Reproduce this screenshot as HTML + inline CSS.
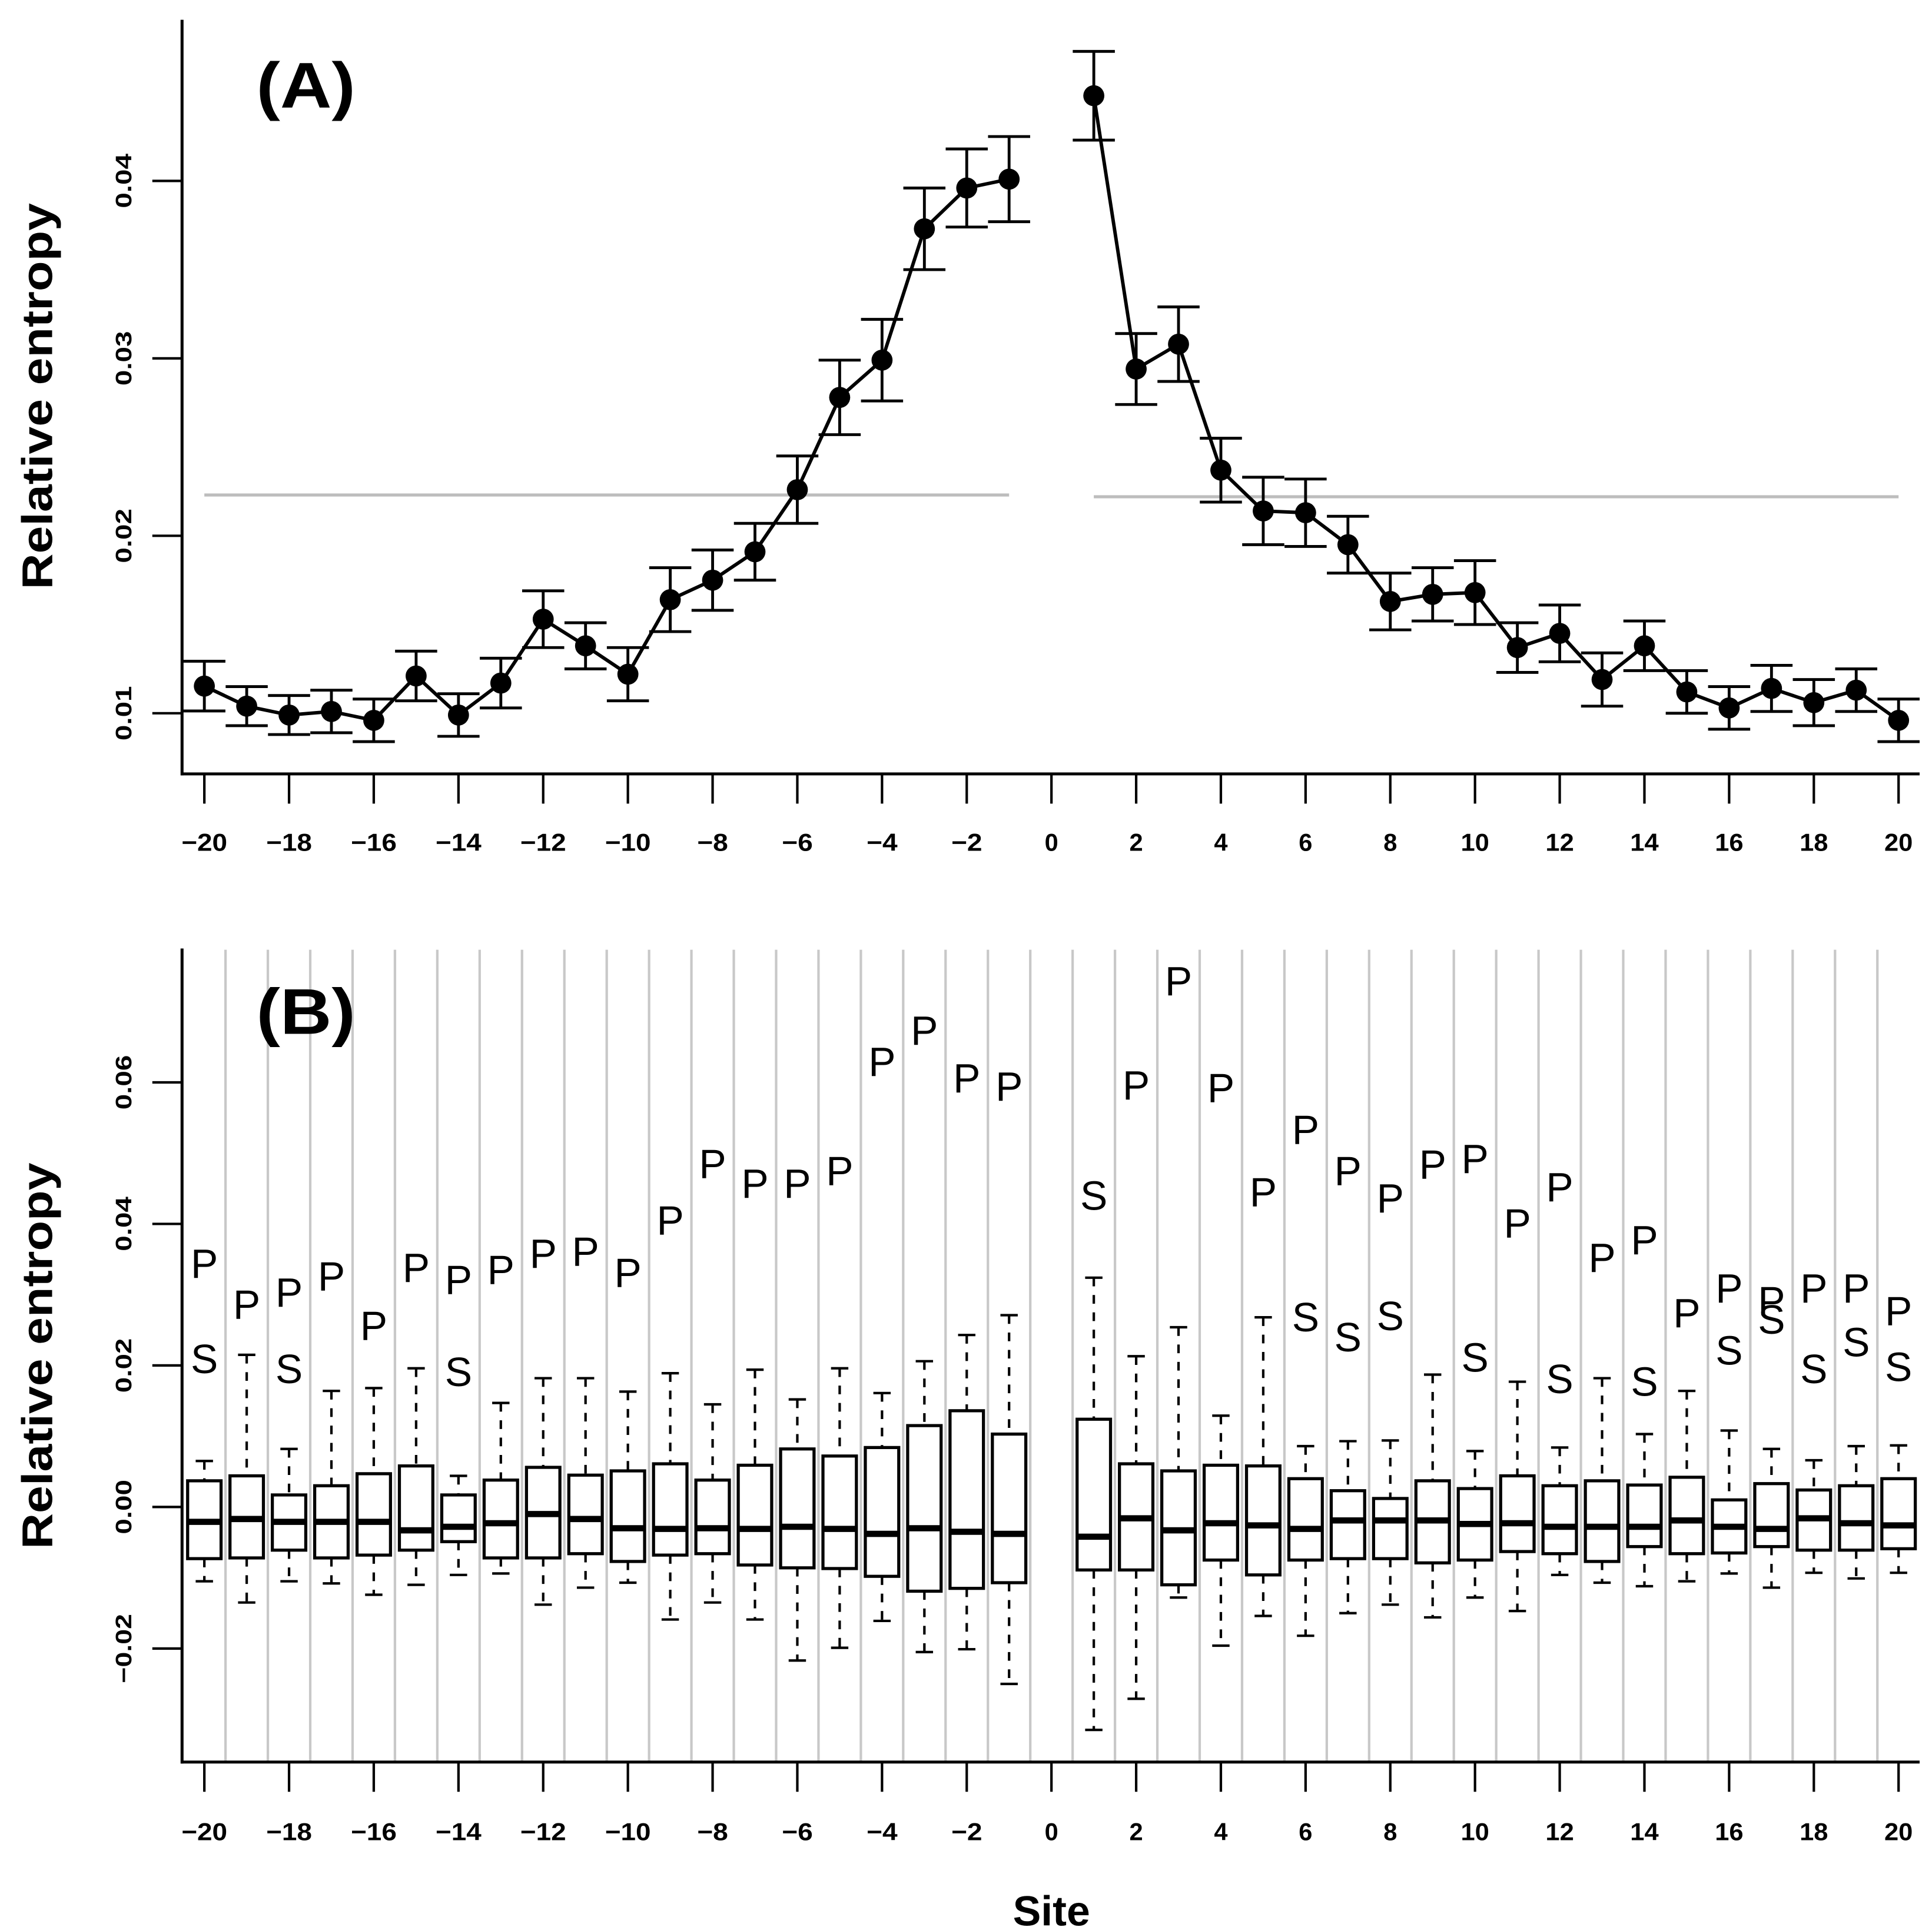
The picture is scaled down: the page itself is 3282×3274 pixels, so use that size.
<!DOCTYPE html>
<html><head><meta charset="utf-8"><style>html,body{margin:0;padding:0;background:#fff}svg{display:block}</style></head>
<body>
<svg id="fig" xmlns="http://www.w3.org/2000/svg" width="3282" height="3274" viewBox="0 0 1560 1556.2" preserveAspectRatio="none" font-family="'Liberation Sans', Arial, sans-serif">
<rect width="1560" height="1557" fill="#fff"/>
<g id="pa"></g>
<g id="pb"></g>
</svg>
<script>
// ---- Panel A data ----
const sitesA = [-20,-19,-18,-17,-16,-15,-14,-13,-12,-11,-10,-9,-8,-7,-6,-5,-4,-3,-2,-1,1,2,3,4,5,6,7,8,9,10,11,12,13,14,15,16,17,18,19,20];
const meanA = [0.01153,0.0104,0.0099,0.0101,0.0096,0.0121,0.0099,0.0117,0.0153,0.0138,0.0122,0.0164,0.0175,0.0191,0.0226,0.0278,0.0299,0.0373,0.0396,0.0401,
  0.0448,0.0294,0.0308,0.0237,0.0214,0.0213,0.0195,0.0163,0.0167,0.0168,0.0137,0.0145,0.0119,0.0138,0.0112,0.0103,0.0114,0.0106,0.0113,0.0096];
const errA = [0.0014,0.0011,0.0011,0.0012,0.0012,0.0014,0.0012,0.0014,0.0016,0.0013,0.0015,0.0018,0.0017,0.0016,0.0019,0.0021,0.0023,0.0023,0.0022,0.0024,
  0.0025,0.002,0.0021,0.0018,0.0019,0.0019,0.0016,0.0016,0.0015,0.0018,0.0014,0.0016,0.0015,0.0014,0.0012,0.0012,0.0013,0.0013,0.0012,0.0012];
const refA = [0.0223, 0.0222];
const yTicksA = [0.01,0.02,0.03,0.04];
const yTickLabelsA = ["0.01","0.02","0.03","0.04"];
const xTicks = [-20,-18,-16,-14,-12,-10,-8,-6,-4,-2,0,2,4,6,8,10,12,14,16,18,20];
const xTickLabels = ["\u221220","\u221218","\u221216","\u221214","\u221212","\u221210","\u22128","\u22126","\u22124","\u22122","0","2","4","6","8","10","12","14","16","18","20"];

// ---- Panel B data (values in units of 0.001) ----
const sitesB = sitesA;
const hiB  = [6.5,21.5,8.2,16.4,16.8,19.6,4.4,14.7,18.2,18.2,16.3,18.9,14.5,19.4,15.2,19.6,16.1,20.6,24.3,27.1,32.4,21.3,25.4,12.9,26.8,8.6,9.3,9.4,18.7,7.9,17.7,8.4,18.2,10.3,16.4,10.8,8.2,6.6,8.6,8.7];
const q3B  = [3.7,4.4,1.7,3.0,4.7,5.8,1.7,3.8,5.6,4.5,5.1,6.1,3.8,5.9,8.2,7.2,8.4,11.5,13.6,10.3,12.4,6.1,5.1,5.9,5.8,4.0,2.3,1.2,3.7,2.6,4.4,3.0,3.7,3.1,4.2,1.0,3.3,2.4,3.0,4.0];
const medB = [-2.1,-1.7,-2.1,-2.1,-2.1,-3.3,-2.8,-2.3,-1.0,-1.7,-3.0,-3.1,-3.0,-3.1,-2.8,-3.1,-3.8,-3.0,-3.5,-3.8,-4.2,-1.6,-3.3,-2.3,-2.6,-3.1,-1.9,-1.9,-1.9,-2.4,-2.3,-2.8,-2.8,-2.8,-1.9,-2.8,-3.1,-1.6,-2.3,-2.6];
const q1B  = [-7.3,-7.2,-6.1,-7.2,-6.8,-6.1,-4.9,-7.2,-7.2,-6.6,-7.7,-6.8,-6.6,-8.2,-8.6,-8.7,-9.8,-11.9,-11.5,-10.7,-8.9,-8.9,-11.0,-7.5,-9.6,-7.5,-7.3,-7.3,-7.9,-7.5,-6.3,-6.6,-7.7,-5.6,-6.6,-6.5,-5.6,-6.1,-6.1,-5.9];
const loB  = [-10.5,-13.5,-10.5,-10.8,-12.4,-11.0,-9.6,-9.4,-13.8,-11.4,-10.7,-15.9,-13.5,-15.9,-21.7,-19.9,-16.1,-20.5,-20.1,-25.0,-31.5,-27.1,-12.8,-19.6,-15.4,-18.2,-15.0,-13.8,-15.6,-12.8,-14.7,-9.6,-10.7,-11.2,-10.5,-9.4,-11.4,-9.3,-10.1,-9.3];
const pB   = [34.5,28.7,30.4,32.7,25.7,33.9,32.2,33.6,35.9,36.2,33.2,40.6,48.6,45.8,45.8,47.6,63.0,67.4,60.7,59.5,null,59.7,74.4,59.3,44.6,53.4,47.6,43.7,48.5,49.3,40.2,45.3,35.3,37.8,27.5,31.0,29.2,31.0,31.0,27.8];
const sB   = [21.0,null,19.6,null,null,null,19.2,null,null,null,null,null,null,null,null,null,null,null,null,null,44.1,null,null,null,null,26.9,24.1,27.1,null,21.2,null,18.2,null,17.8,null,22.2,26.6,19.6,23.4,19.9];
const yTicksB = [-0.02,0,0.02,0.04,0.06];
const yTickLabelsB = ["\u22120.02","0.00","0.02","0.04","0.06"];

const NS = "http://www.w3.org/2000/svg";
function mk(parent, tag, attrs, text){
  const e = document.createElementNS(NS, tag);
  for (const k in attrs) e.setAttribute(k, attrs[k]);
  if (text !== undefined) e.textContent = text;
  parent.appendChild(e);
  return e;
}
const X0 = 165, X1 = 1533;
function xs(s){ return X0 + (s + 20) * (X1 - X0) / 40; }
function yA(v){ return 576 - (v - 0.01) * 14330; }
function yB(v){ return 1217 - v * 5715; }
function yBk(v){ return yB(v / 1000); }

function axes(g, top, bottom, yticks, ylabels, yfun, labelY, titleY, panelLabel, plY){
  let e;
  e = mk(g,'line',{x1:147,y1:top,x2:147,y2:bottom+1.2,stroke:'#000','stroke-width':2.4});
   
  e = mk(g,'line',{x1:146,y1:bottom,x2:1550,y2:bottom,stroke:'#000','stroke-width':2.4});
   
  yticks.forEach((v,i)=>{
    const y = yfun(v);
    let t = mk(g,'line',{x1:123,y1:y,x2:147,y2:y,stroke:'#000','stroke-width':2});
     
    const len = ylabels[i].length > 4 ? 56 : 44;
    let l = mk(g,'text',{x:0,y:0,transform:`translate(106,${y}) rotate(-90)`,'text-anchor':'middle','font-size':18,'font-weight':'bold',textLength:len,lengthAdjust:'spacingAndGlyphs'}, ylabels[i]);
     
  });
  xTicks.forEach((s,i)=>{
    const x = xs(s);
    let t = mk(g,'line',{x1:x,y1:bottom,x2:x,y2:bottom+24,stroke:'#000','stroke-width':2});
     
    const lab = xTickLabels[i];
    const w = lab.length===1?11:(lab.length===2?(lab[0]==='\u2212'?25:23):37);
    let l = mk(g,'text',{x:x,y:labelY,'text-anchor':'middle','font-size':20,'font-weight':'bold',textLength:w,lengthAdjust:'spacingAndGlyphs'}, lab);
     
  });
  let tt = mk(g,'text',{x:0,y:0,transform:`translate(42,${titleY}) rotate(-90)`,'text-anchor':'middle','font-size':35,'font-weight':'bold',textLength:312,lengthAdjust:'spacingAndGlyphs'},'Relative entropy');
   
  let pl = mk(g,'text',{x:207,y:plY,'font-size':52,'font-weight':'bold',textLength:80,lengthAdjust:'spacingAndGlyphs'},panelLabel);
   
}

// Panel A
const pa = document.getElementById('pa');
axes(pa, 16, 625, yTicksA, yTickLabelsA, yA, 687, 320, '(A)', 87);
[[ -20, -1, refA[0]], [1, 20, refA[1]]].forEach(([a,b,v])=>{
  const l = mk(pa,'line',{x1:xs(a),y1:yA(v),x2:xs(b),y2:yA(v),stroke:'#bdbdbd','stroke-width':2.5});
   
});
function seg(idx0, idx1){
  let pts = [];
  for (let i=idx0;i<=idx1;i++) pts.push(xs(sitesA[i])+','+yA(meanA[i]));
  const p = mk(pa,'polyline',{points:pts.join(' '),fill:'none',stroke:'#000','stroke-width':2.8});
   
}
seg(0,19); seg(20,39);
sitesA.forEach((s,i)=>{
  const x = xs(s), yt = yA(meanA[i]+errA[i]), yb = yA(meanA[i]-errA[i]);
  const g = mk(pa,'g',{});
   
  mk(g,'line',{x1:x,y1:yt,x2:x,y2:yb,stroke:'#000','stroke-width':2.3});
  mk(g,'line',{x1:x-17,y1:yt,x2:x+17,y2:yt,stroke:'#000','stroke-width':2.3});
  mk(g,'line',{x1:x-17,y1:yb,x2:x+17,y2:yb,stroke:'#000','stroke-width':2.3});
  const c = mk(pa,'circle',{cx:x,cy:yA(meanA[i]),r:8.5,fill:'#000'});
   
});

// Panel B
const pb = document.getElementById('pb');
for (let k=-19.5;k<=19.5;k+=1){
  const l = mk(pb,'line',{x1:xs(k),y1:767,x2:xs(k),y2:1422,stroke:'#c8c8c8','stroke-width':2});
   
}
axes(pb, 766, 1423, yTicksB, yTickLabelsB, yB, 1486, 1095, '(B)', 835);
sitesB.forEach((s,i)=>{
  const x = xs(s), hw = 13.5, cw = 7;
  const g = mk(pb,'g',{});
   
  mk(g,'line',{x1:x,y1:yBk(hiB[i]),x2:x,y2:yBk(q3B[i]),stroke:'#000','stroke-width':2,'stroke-dasharray':'7,7'});
  mk(g,'line',{x1:x,y1:yBk(q1B[i]),x2:x,y2:yBk(loB[i]),stroke:'#000','stroke-width':2,'stroke-dasharray':'7,7'});
  mk(g,'line',{x1:x-cw,y1:yBk(hiB[i]),x2:x+cw,y2:yBk(hiB[i]),stroke:'#000','stroke-width':2});
  mk(g,'line',{x1:x-cw,y1:yBk(loB[i]),x2:x+cw,y2:yBk(loB[i]),stroke:'#000','stroke-width':2});
  mk(g,'rect',{x:x-hw,y:yBk(q3B[i]),width:2*hw,height:yBk(q1B[i])-yBk(q3B[i]),fill:'#fff',stroke:'#000','stroke-width':2.5});
  mk(g,'line',{x1:x-hw,y1:yBk(medB[i]),x2:x+hw,y2:yBk(medB[i]),stroke:'#000','stroke-width':5});
  if (pB[i] !== null){
    const t = mk(pb,'text',{x:x,y:yBk(pB[i])+12,'text-anchor':'middle','font-size':33},'P');
     
  }
  if (sB[i] !== null){
    const t = mk(pb,'text',{x:x,y:yBk(sB[i])+12,'text-anchor':'middle','font-size':33},'S');
     
  }
});
const st = mk(pb,'text',{x:849,y:1555,'text-anchor':'middle','font-size':34,'font-weight':'bold'},'Site');


</script>
</body></html>
